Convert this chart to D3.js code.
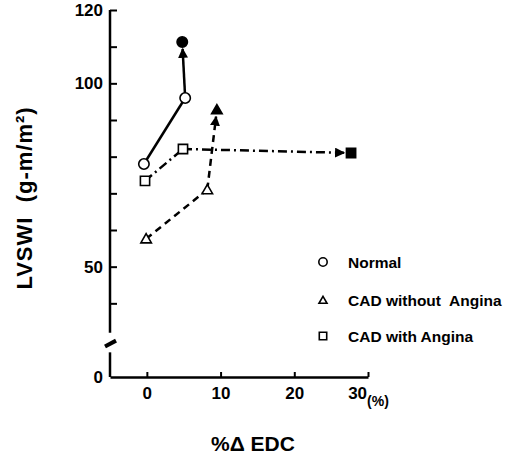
<!DOCTYPE html>
<html>
<head>
<meta charset="utf-8">
<script src="https://cdn.jsdelivr.net/npm/d3@7"></script>
<style>
  body { margin: 0; background: #fff; }
  svg { font-family: "Liberation Sans", Arial, sans-serif; }
  .tick text { font-size: 17px; font-weight: bold; fill: #000; }
</style>
</head>
<body>
<svg id="chart" width="517" height="457"></svg>
<script>
// groups in the legend order
const groups = ['Normal', 'CAD without  Angina', 'CAD with Angina']
const symbols = ['circle', 'triangle', 'square']
const dashes = [null, '7,5', '9,4,2,4']

// x = %dEDC, y = LVSWI ; two open points, then the filled end point the arrow goes to
const normalX = [-0.4, 5.2], normalY = [78, 96], normalEnd = [4.8, 111.3]
const noAnginaX = [-0.1, 8.2], noAnginaY = [57.6, 71], noAnginaEnd = [9.5, 92.8]
const anginaX = [-0.25, 4.9], anginaY = [73.4, 82.1], anginaEnd = [27.7, 81]

const xTicks = [0, 10, 20, 30]
const yTicks = [40, 50, 60, 70, 80, 90, 100, 110, 120]
const yLabels = [50, 100, 120]

const series = [
  {x: normalX, y: normalY, end: normalEnd},
  {x: noAnginaX, y: noAnginaY, end: noAnginaEnd},
  {x: anginaX, y: anginaY, end: anginaEnd}
]

const svg = d3.select('#chart')

const x = d3.scaleLinear().domain([-5, 30]).range([110, 368])
// broken axis: 0..30 squeezed, 30..120 linear
const y = d3.scaleLinear().domain([0, 30, 120]).range([377, 340, 10])

svg.append('defs').append('marker')
  .attr('id', 'arrow')
  .attr('viewBox', '0 0 10 10')
  .attr('refX', 9).attr('refY', 5)
  .attr('markerWidth', 4).attr('markerHeight', 4)
  .attr('markerUnits', 'strokeWidth')
  .attr('orient', 'auto')
  .append('path').attr('d', 'M0,0L10,5L0,10Z').attr('fill', '#000')

// axes
const xAxis = svg.append('g').attr('transform', 'translate(0,377)')
  .call(d3.axisBottom(x).tickValues(xTicks).tickSizeInner(-5).tickSizeOuter(0).tickPadding(10))
xAxis.select('.domain').attr('stroke-width', 2.5)
xAxis.selectAll('.tick line').attr('stroke-width', 2)
xAxis.selectAll('.tick text').attr('font-size', 16)
xAxis.selectAll('.tick').filter(d => d === 30).select('text')
  .append('tspan').attr('dy', '0.5em').attr('font-size', 14).text('(%)')

const yAxis = svg.append('g').attr('transform', 'translate(110,0)')
  .call(d3.axisLeft(y).tickValues(yTicks).tickSizeInner(-7).tickSizeOuter(0).tickPadding(7)
    .tickFormat(d => yLabels.includes(d) ? d : ''))
yAxis.select('.domain').remove()
yAxis.selectAll('.tick line').attr('stroke-width', 2)

svg.append('g').attr('transform', 'translate(110,0)')
  .call(d3.axisLeft(y).tickValues([0]).tickSize(0).tickPadding(7))
  .select('.domain').remove()

svg.append('line').attr('x1', 110).attr('x2', 110).attr('y1', y(120)).attr('y2', y(32))
  .attr('stroke', '#000').attr('stroke-width', 2.5)
svg.append('line').attr('x1', 110).attr('x2', 110).attr('y1', y(20)).attr('y2', y(0))
  .attr('stroke', '#000').attr('stroke-width', 2.5)
// break mark
svg.append('line').attr('x1', x(-5) - 5).attr('y1', y(24) - 1).attr('x2', x(-5) + 6).attr('y2', y(29.5))
  .attr('stroke', '#000').attr('stroke-width', 4)

// lines
function shorten(p, q, d) {
  const dx = q[0] - p[0], dy = q[1] - p[1], l = Math.hypot(dx, dy)
  return [q[0] - dx / l * d, q[1] - dy / l * d]
}

series.forEach((s, i) => {
  const p0 = [x(s.x[0]), y(s.y[0])], p1 = [x(s.x[1]), y(s.y[1])], pe = [x(s.end[0]), y(s.end[1])]
  svg.append('path')
    .attr('d', d3.line()([p0, p1]))
    .attr('fill', 'none').attr('stroke', '#000').attr('stroke-width', 2.5)
    .attr('stroke-dasharray', dashes[i])
  svg.append('path')
    .attr('d', d3.line()([p1, shorten(p1, pe, 7)]))
    .attr('fill', 'none').attr('stroke', '#000').attr('stroke-width', 2.5)
    .attr('stroke-dasharray', dashes[i])
    .attr('marker-end', 'url(#arrow)')
})

function drawSymbol(g, kind, cx, cy, size, filled) {
  const sym = kind === 'circle' ? d3.symbolCircle : kind === 'square' ? d3.symbolSquare : d3.symbolTriangle
  g.append('path')
    .attr('d', d3.symbol(sym, size)())
    .attr('transform', `translate(${cx},${cy + (kind === 'triangle' ? 1 : 0)})`)
    .attr('fill', filled ? '#000' : '#fff')
    .attr('stroke', '#000').attr('stroke-width', 1.6)
}

series.forEach((s, i) => {
  const size = i === 1 ? 48 : 85
  s.x.forEach((v, j) => drawSymbol(svg, symbols[i], x(v), y(s.y[j]), size, false))
  drawSymbol(svg, symbols[i], x(s.end[0]), y(s.end[1]), size, true)
})

// legend
const legendY = [262, 300, 336]
groups.forEach((name, i) => {
  drawSymbol(svg, symbols[i], 323, legendY[i], symbols[i] === 'triangle' ? 28 : 55, false)
  svg.append('text').attr('x', 348).attr('y', legendY[i]).attr('dy', '0.36em')
    .attr('font-size', 15.5).attr('font-weight', 'bold').style('white-space', 'pre')
    .text(name)
})

// axis titles
svg.append('text').attr('x', 253).attr('y', 443).attr('dy', '0.36em')
  .attr('text-anchor', 'middle').attr('font-size', 21).attr('font-weight', 'bold')
  .text('%\u0394 EDC')

svg.append('text').attr('transform', 'translate(24,198) rotate(-90)').attr('dy', '0.36em')
  .attr('text-anchor', 'middle').attr('font-size', 22).attr('font-weight', 'bold')
  .attr('letter-spacing', 1).style('white-space', 'pre')
  .text('LVSWI  (g-m/m\u00B2)')
</script>
</body>
</html>
